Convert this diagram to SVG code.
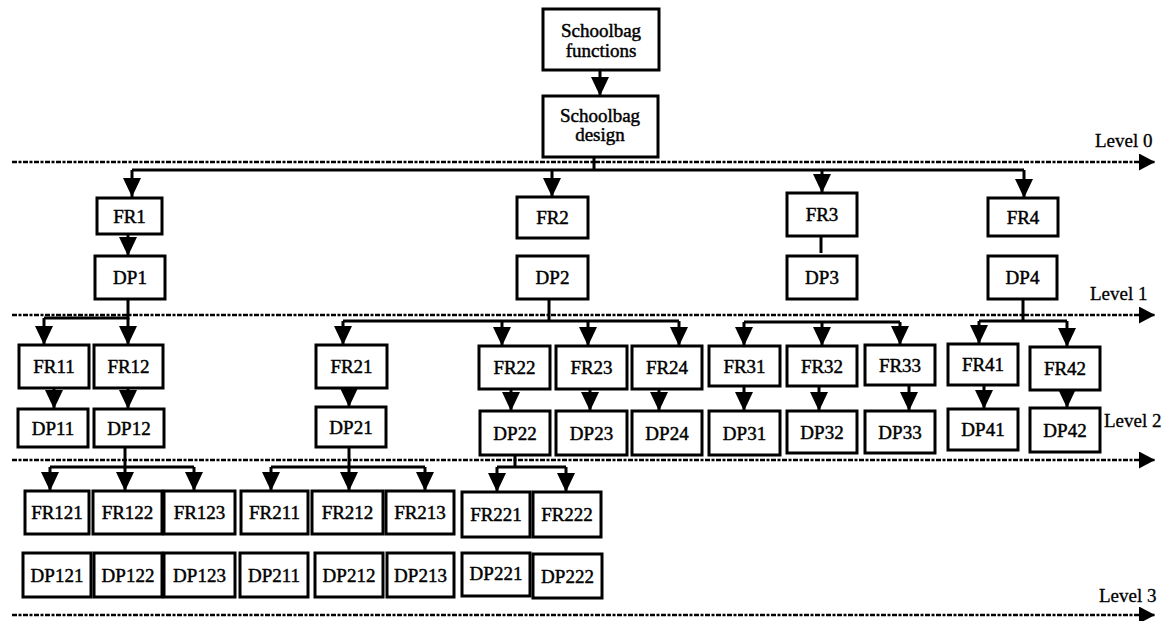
<svg xmlns="http://www.w3.org/2000/svg" width="1166" height="621" viewBox="0 0 1166 621">
<defs>
<marker id="ah" markerUnits="userSpaceOnUse" markerWidth="19" markerHeight="19" viewBox="0 0 19 18" refX="19" refY="9" orient="auto"><path d="M0,0 L19,9 L0,18 z" fill="#000"/></marker>
<marker id="lh" markerUnits="userSpaceOnUse" markerWidth="16" markerHeight="17" viewBox="0 0 16 17" refX="16" refY="8.5" orient="auto"><path d="M0,0 L16,8.5 L0,17 z" fill="#000"/></marker>
<style>
.b{fill:#fff;stroke:#000;stroke-width:3}
.t{font-family:"Liberation Serif",serif;font-size:19px;fill:#000;stroke:#000;stroke-width:0.45;text-anchor:middle}
.lv{font-family:"Liberation Serif",serif;font-size:19px;fill:#000;stroke:#000;stroke-width:0.3}
.c{fill:none;stroke:#000;stroke-width:3}
.a{fill:none;stroke:#000;stroke-width:3;marker-end:url(#ah)}
.lvl{fill:none;stroke:#000;stroke-width:2.5;stroke-dasharray:5 1.5 3 1.5;marker-end:url(#lh)}
</style>
</defs>
<rect width="1166" height="621" fill="#fff"/>
<g id="levels">
<line class="lvl" x1="12" y1="162" x2="1155" y2="162"/>
<line class="lvl" x1="12" y1="315" x2="1155" y2="315"/>
<line class="lvl" x1="12" y1="460" x2="1155" y2="460"/>
<line class="lvl" x1="12" y1="615" x2="1155" y2="615"/>
<text class="lv" x="1095" y="147">Level 0</text>
<text class="lv" x="1090" y="300">Level 1</text>
<text class="lv" x="1104" y="427">Level 2</text>
<text class="lv" x="1099" y="602">Level 3</text>
</g>
<g id="connectors">
<line class="a" x1="600" y1="70" x2="600" y2="96"/>
<polyline class="c" points="594,157 594,170"/>
<line class="c" x1="132" y1="170" x2="1024" y2="170"/>
<line class="a" x1="132" y1="170" x2="132" y2="197"/>
<line class="a" x1="552" y1="170" x2="552" y2="197"/>
<line class="a" x1="822" y1="170" x2="822" y2="193"/>
<line class="a" x1="1024" y1="170" x2="1024" y2="198"/>
<line class="a" x1="128" y1="234" x2="128" y2="256"/>
<line class="c" x1="821" y1="236" x2="821" y2="253"/>
<polyline class="c" points="128,299 128,318 44,318"/>
<line class="a" x1="44" y1="318" x2="44" y2="345"/>
<line class="a" x1="128" y1="318" x2="128" y2="345"/>
<line class="a" x1="54" y1="388" x2="54" y2="409"/>
<line class="a" x1="128" y1="388" x2="128" y2="409"/>
<line class="c" x1="549" y1="299" x2="549" y2="321"/>
<line class="c" x1="343" y1="321" x2="679" y2="321"/>
<line class="a" x1="343" y1="321" x2="343" y2="345"/>
<line class="a" x1="502" y1="321" x2="502" y2="346"/>
<line class="a" x1="588" y1="321" x2="588" y2="346"/>
<line class="a" x1="679" y1="321" x2="679" y2="346"/>
<line class="a" x1="349" y1="388" x2="349" y2="407"/>
<line class="a" x1="511" y1="389" x2="511" y2="411"/>
<line class="a" x1="590" y1="389" x2="590" y2="411"/>
<line class="a" x1="659" y1="389" x2="659" y2="411"/>
<line class="a" x1="744" y1="386" x2="744" y2="411"/>
<line class="c" x1="744" y1="322" x2="900" y2="322"/>
<line class="a" x1="744" y1="322" x2="744" y2="346"/>
<line class="a" x1="822" y1="322" x2="822" y2="346"/>
<line class="a" x1="900" y1="322" x2="900" y2="345"/>
<line class="a" x1="819" y1="386" x2="819" y2="411"/>
<line class="a" x1="909" y1="385" x2="909" y2="411"/>
<line class="c" x1="1023" y1="299" x2="1023" y2="321"/>
<line class="c" x1="979" y1="321" x2="1067" y2="321"/>
<line class="a" x1="979" y1="321" x2="979" y2="344"/>
<line class="a" x1="1067" y1="321" x2="1067" y2="347"/>
<line class="a" x1="984" y1="385" x2="984" y2="409"/>
<line class="a" x1="1067" y1="390" x2="1067" y2="408"/>
<line class="c" x1="125" y1="447" x2="125" y2="467"/>
<line class="c" x1="50" y1="467" x2="194" y2="467"/>
<line class="a" x1="50" y1="467" x2="50" y2="491"/>
<line class="a" x1="125" y1="467" x2="125" y2="491"/>
<line class="a" x1="194" y1="467" x2="194" y2="491"/>
<line class="c" x1="349" y1="447" x2="349" y2="467"/>
<line class="c" x1="271" y1="467" x2="425" y2="467"/>
<line class="a" x1="271" y1="467" x2="271" y2="491"/>
<line class="a" x1="349" y1="467" x2="349" y2="491"/>
<line class="a" x1="425" y1="467" x2="425" y2="491"/>
<line class="c" x1="515" y1="455" x2="515" y2="467"/>
<line class="c" x1="497" y1="467" x2="566" y2="467"/>
<line class="a" x1="497" y1="467" x2="497" y2="492"/>
<line class="a" x1="566" y1="467" x2="566" y2="492"/>
</g>
<g id="SF"><rect class="b" x="543" y="9" width="116" height="61"/><text class="t" x="601" y="37">Schoolbag</text><text class="t" x="601" y="57">functions</text></g>
<g id="SD"><rect class="b" x="543" y="96" width="115" height="61"/><text class="t" x="600" y="122">Schoolbag</text><text class="t" x="600" y="141">design</text></g>
<g id="FR1"><rect class="b" x="97" y="198" width="65" height="36"/><text class="t" x="129.5" y="222.5">FR1</text></g>
<g id="DP1"><rect class="b" x="95" y="256" width="70" height="43"/><text class="t" x="130" y="284">DP1</text></g>
<g id="FR2"><rect class="b" x="517" y="197" width="71" height="41"/><text class="t" x="552.5" y="224">FR2</text></g>
<g id="DP2"><rect class="b" x="517" y="256" width="71" height="43"/><text class="t" x="552.5" y="284">DP2</text></g>
<g id="FR3"><rect class="b" x="787" y="193" width="70" height="43"/><text class="t" x="822" y="221">FR3</text></g>
<g id="DP3"><rect class="b" x="787" y="256" width="70" height="43"/><text class="t" x="822" y="284">DP3</text></g>
<g id="FR4"><rect class="b" x="988" y="198" width="70" height="38"/><text class="t" x="1023" y="223.5">FR4</text></g>
<g id="DP4"><rect class="b" x="988" y="256" width="69" height="43"/><text class="t" x="1022.5" y="284">DP4</text></g>
<g id="FR11"><rect class="b" x="19" y="345" width="70" height="43"/><text class="t" x="54" y="373">FR11</text></g>
<g id="FR12"><rect class="b" x="94" y="345" width="69" height="43"/><text class="t" x="128.5" y="373">FR12</text></g>
<g id="DP11"><rect class="b" x="18" y="409" width="70" height="38"/><text class="t" x="53" y="434.5">DP11</text></g>
<g id="DP12"><rect class="b" x="94" y="409" width="70" height="38"/><text class="t" x="129" y="434.5">DP12</text></g>
<g id="FR21"><rect class="b" x="316" y="345" width="71" height="43"/><text class="t" x="351.5" y="373">FR21</text></g>
<g id="DP21"><rect class="b" x="316" y="407" width="70" height="40"/><text class="t" x="351" y="433.5">DP21</text></g>
<g id="FR22"><rect class="b" x="479" y="346" width="71" height="43"/><text class="t" x="514.5" y="374">FR22</text></g>
<g id="FR23"><rect class="b" x="556" y="346" width="71" height="43"/><text class="t" x="591.5" y="374">FR23</text></g>
<g id="FR24"><rect class="b" x="632" y="346" width="70" height="43"/><text class="t" x="667" y="374">FR24</text></g>
<g id="FR31"><rect class="b" x="709" y="346" width="71" height="40"/><text class="t" x="744.5" y="372.5">FR31</text></g>
<g id="FR32"><rect class="b" x="787" y="346" width="70" height="40"/><text class="t" x="822" y="372.5">FR32</text></g>
<g id="FR33"><rect class="b" x="865" y="345" width="70" height="40"/><text class="t" x="900" y="371.5">FR33</text></g>
<g id="FR41"><rect class="b" x="948" y="344" width="70" height="41"/><text class="t" x="983" y="371">FR41</text></g>
<g id="FR42"><rect class="b" x="1030" y="347" width="70" height="43"/><text class="t" x="1065" y="375">FR42</text></g>
<g id="DP22"><rect class="b" x="480" y="411" width="70" height="44"/><text class="t" x="515" y="439.5">DP22</text></g>
<g id="DP23"><rect class="b" x="556" y="411" width="71" height="44"/><text class="t" x="591.5" y="439.5">DP23</text></g>
<g id="DP24"><rect class="b" x="632" y="411" width="70" height="44"/><text class="t" x="667" y="439.5">DP24</text></g>
<g id="DP31"><rect class="b" x="709" y="411" width="71" height="44"/><text class="t" x="744.5" y="439.5">DP31</text></g>
<g id="DP32"><rect class="b" x="787" y="411" width="70" height="42"/><text class="t" x="822" y="438.5">DP32</text></g>
<g id="DP33"><rect class="b" x="865" y="411" width="70" height="42"/><text class="t" x="900" y="438.5">DP33</text></g>
<g id="DP41"><rect class="b" x="948" y="409" width="70" height="41"/><text class="t" x="983" y="436">DP41</text></g>
<g id="DP42"><rect class="b" x="1030" y="408" width="70" height="44"/><text class="t" x="1065" y="436.5">DP42</text></g>
<g id="FR121"><rect class="b" x="25" y="491" width="64" height="43"/><text class="t" x="57" y="519">FR121</text></g>
<g id="FR122"><rect class="b" x="93" y="491" width="69" height="43"/><text class="t" x="127.5" y="519">FR122</text></g>
<g id="FR123"><rect class="b" x="164" y="491" width="71" height="43"/><text class="t" x="199.5" y="519">FR123</text></g>
<g id="FR211"><rect class="b" x="241" y="491" width="67" height="43"/><text class="t" x="274.5" y="519">FR211</text></g>
<g id="FR212"><rect class="b" x="312" y="491" width="71" height="43"/><text class="t" x="347.5" y="519">FR212</text></g>
<g id="FR213"><rect class="b" x="386" y="491" width="68" height="43"/><text class="t" x="420" y="519">FR213</text></g>
<g id="FR221"><rect class="b" x="462" y="492" width="68" height="45"/><text class="t" x="496" y="521">FR221</text></g>
<g id="FR222"><rect class="b" x="533" y="492" width="68" height="45"/><text class="t" x="567" y="521">FR222</text></g>
<g id="DP121"><rect class="b" x="23" y="553" width="68" height="44"/><text class="t" x="57" y="581.5">DP121</text></g>
<g id="DP122"><rect class="b" x="94" y="553" width="68" height="44"/><text class="t" x="128" y="581.5">DP122</text></g>
<g id="DP123"><rect class="b" x="164" y="553" width="71" height="44"/><text class="t" x="199.5" y="581.5">DP123</text></g>
<g id="DP211"><rect class="b" x="240" y="553" width="68" height="44"/><text class="t" x="274" y="581.5">DP211</text></g>
<g id="DP212"><rect class="b" x="315" y="553" width="68" height="44"/><text class="t" x="349" y="581.5">DP212</text></g>
<g id="DP213"><rect class="b" x="387" y="553" width="67" height="44"/><text class="t" x="420.5" y="581.5">DP213</text></g>
<g id="DP221"><rect class="b" x="462" y="553" width="68" height="43"/><text class="t" x="496" y="580">DP221</text></g>
<g id="DP222"><rect class="b" x="533" y="554" width="69" height="44"/><text class="t" x="567.5" y="582.5">DP222</text></g>
</svg>
